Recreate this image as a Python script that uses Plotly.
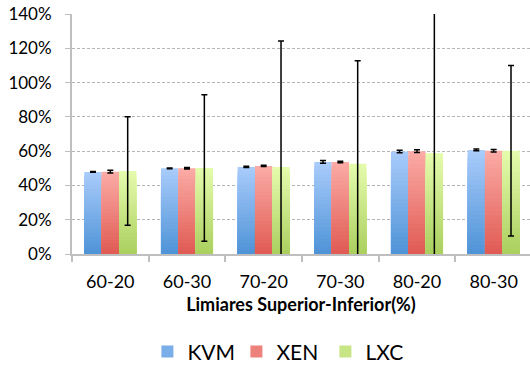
import plotly.graph_objects as go

# Data: consolidation level per hypervisor for each upper/lower threshold pair
categories = ["60-20", "60-30", "70-20", "70-30", "80-20", "80-30"]
kvm = [0.479, 0.500, 0.508, 0.537, 0.598, 0.607]
xen = [0.480, 0.500, 0.514, 0.537, 0.600, 0.602]
lxc = [0.484, 0.502, 0.508, 0.526, 0.588, 0.602]
kvm_err = [0.002, 0.002, 0.004, 0.008, 0.007, 0.005]
xen_err = [0.008, 0.004, 0.004, 0.004, 0.008, 0.007]
lxc_err = [0.316, 0.427, 0.734, 0.601, 0.900, 0.497]

series = [
    # name, values, errors, top colour, bottom colour, offset
    ("KVM", kvm, kvm_err, (168, 203, 250), (80, 148, 216), -0.3395),
    ("XEN", xen, xen_err, (251, 170, 165), (224, 92, 84), -0.1132),
    ("LXC", lxc, lxc_err, (228, 251, 172), (172, 208, 96), 0.1132),
]
BAR_W = 0.2263
STEPS = 24


def mix(c1, c2, t):
    return "rgb({},{},{})".format(*[round(a + (b - a) * t) for a, b in zip(c1, c2)])


fig = go.Figure()

# Vertical gradient: overlaid bars, tallest (lightest) first, shorter/darker on top
for name, vals, errs, top, bottom, off in series:
    for k in range(STEPS, 0, -1):
        frac = k / STEPS
        t = 1 - (k - 1) / (STEPS - 1)
        fig.add_trace(go.Bar(
            x=categories,
            y=[v * frac for v in vals],
            width=BAR_W,
            offset=off,
            marker=dict(color=mix(top, bottom, t), line=dict(width=0)),
            name=name,
            legendgroup=name,
            showlegend=(k == STEPS // 2),
            hoverinfo="skip",
        ))

# Error bars drawn on top of every bar
for name, vals, errs, top, bottom, off in series:
    fig.add_trace(go.Bar(
        x=categories,
        y=vals,
        width=BAR_W,
        offset=off,
        marker=dict(color="rgba(0,0,0,0)", line=dict(width=0)),
        error_y=dict(type="data", array=errs, visible=True,
                     color="black", thickness=1.5, width=3),
        name=name,
        legendgroup=name,
        showlegend=False,
    ))

font_family = "Lato, 'Open Sans', sans-serif"

fig.update_layout(
    width=530,
    height=365,
    margin=dict(l=72, r=0, t=14, b=111),
    barmode="overlay",
    plot_bgcolor="white",
    paper_bgcolor="white",
    font=dict(family=font_family, size=17, color="black"),
    legend=dict(
        orientation="h",
        xref="container", yref="container",
        x=0.53, xanchor="center",
        y=0.036, yanchor="middle",
        font=dict(size=21),
        itemwidth=30,
        entrywidth=44,
        tracegroupgap=0,
    ),
    xaxis=dict(
        range=[-0.5, 5.474],
        showline=True, linecolor="#bfbfbf", linewidth=2,
        ticks="outside", tickson="boundaries", ticklen=6,
        tickcolor="#bfbfbf", tickwidth=1.5,
        ticklabelstandoff=10,
        tickfont=dict(size=18),
        showgrid=False,
        title=dict(text="<b>Limiares Superior-Inferior(%)</b>",
                   font=dict(size=18), standoff=8),
    ),
    yaxis=dict(
        range=[0, 1.4],
        dtick=0.2,
        tickformat=".0%",
        showline=True, linecolor="#bfbfbf", linewidth=2,
        ticks="outside", ticklen=5, tickcolor="#bfbfbf", tickwidth=1,
        ticklabelstandoff=10,
        showgrid=True, gridcolor="#b4b4b4", gridwidth=1, griddash="3px,2px",
        zeroline=False,
    ),
)

fig.write_html("out.html")
